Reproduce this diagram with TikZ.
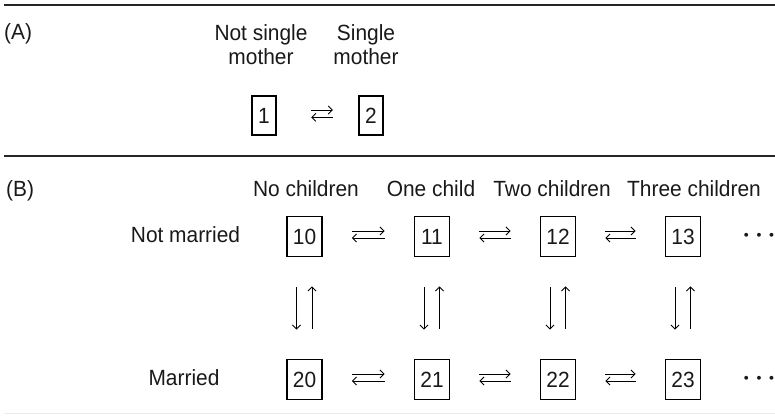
\documentclass[tikz,border=0pt]{standalone}
\usepackage{fontspec}
\setmainfont{Liberation Sans}[FakeStretch=0.95]
\usetikzlibrary{arrows.meta}
\begin{document}
\begin{tikzpicture}[x=1pt,y=-1pt,
  lab/.style={font=\fontsize{22}{24}\selectfont, inner sep=0pt, align=center, text=black!90},
  boxA/.style={draw, line width=1.9pt, minimum width=24.5pt, minimum height=39.5pt, inner sep=0pt, font=\fontsize{22}{24}\selectfont, text=black!90},
  boxB/.style={boxA, minimum width=35pt, minimum height=40pt},
  arr/.style={-{Straight Barb[length=4pt,width=8pt]}, line width=0.9pt},
  rulestyle/.style={line width=1.3pt, black!85},
  dotsstyle/.style={font=\fontsize{23}{24}\selectfont\boldmath, inner sep=0pt, anchor=base, text=black!90},
  hshort/.style={shorten <=29pt, shorten >=29pt},
  vshort/.style={shorten <=30pt, shorten >=29pt}]
\useasboundingbox (0,0) rectangle (775,415);
% rules
\coordinate (r1a) at (4,5);   \coordinate (r1b) at (775,5);
\coordinate (r2a) at (4,156); \coordinate (r2b) at (775,156);
\coordinate (r3a) at (4,413); \coordinate (r3b) at (775,413);
\draw[rulestyle] (r1a) -- (r1b);
\draw[rulestyle] (r2a) -- (r2b);
\draw[line width=1pt, black!8] (r3a) -- (r3b);
% Part A
\node[lab, anchor=west] (A) at (4,34) {(A)};
\node[lab] (hA1) at (261,45) {Not single\\mother};
\node[lab] (hA2) at (366,45) {Single\\mother};
\node[boxA] (b1) at (264,115.5) {1};
\node[boxA] (b2) at (371,115.5) {2};
\draw[arr, shorten <=34pt, shorten >=25pt] ([yshift=5.5pt]b1.east) -- ([yshift=5.5pt]b2.west);
\draw[arr, shorten <=25pt, shorten >=34pt] ([yshift=-1.8pt]b2.west) -- ([yshift=-1.8pt]b1.east);
% Part B
\node[lab, anchor=west] (B) at (6,191) {(B)};
\node[lab] (h0) at (306,189) {No children};
\node[lab] (h1) at (431,189) {One child};
\node[lab] (h2) at (552,189) {Two children};
\node[lab] (h3) at (694,189) {Three children};
\node[lab] (nm) at (185.5,235) {Not married};
\node[lab] (m) at (184,378) {Married};
\foreach \i/\x in {0/304.5,1/432,2/558,3/683}{
  \node[boxB] (b1\i) at (\x,236.5) {1\i};
  \node[boxB] (b2\i) at (\x,379.5) {2\i};
}
\node[dotsstyle] (d1) at (759,241.5) {$\cdots$};
\node[dotsstyle] (d2) at (759,384.8) {$\cdots$};
\foreach \r in {1,2}{
  \foreach \a/\b in {0/1,1/2,2/3}{
    \draw[arr, hshort] ([yshift=5.5pt]b\r\a.east) -- ([yshift=5.5pt]b\r\b.west);
    \draw[arr, hshort] ([yshift=-1.5pt]b\r\b.west) -- ([yshift=-1.5pt]b\r\a.east);
  }
}
\foreach \i in {0,1,2,3}{
  \draw[arr, vshort] ([xshift=-8pt]b1\i.south) -- ([xshift=-8pt]b2\i.north);
  \draw[arr, vshort] ([xshift=7.5pt]b2\i.north) -- ([xshift=7.5pt]b1\i.south);
}
\end{tikzpicture}
\end{document}
